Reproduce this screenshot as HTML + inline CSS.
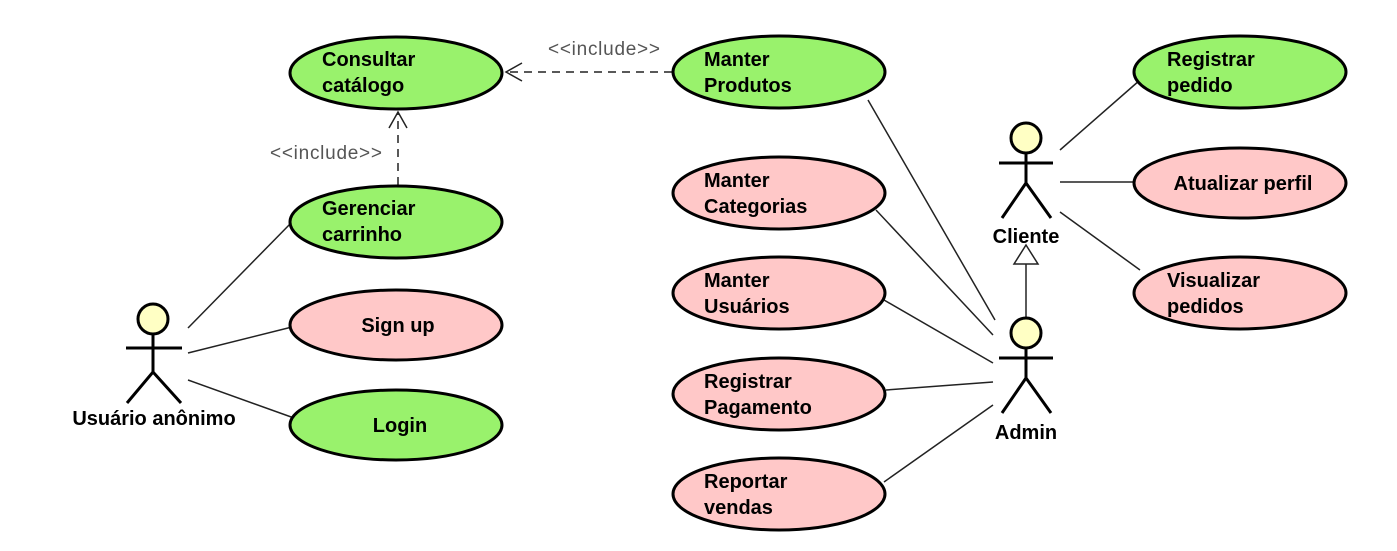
<!DOCTYPE html>
<html><head><meta charset="utf-8"><style>
html,body{margin:0;padding:0;background:#fff}
svg{display:block}
text{font-family:"Liberation Sans",Arial,sans-serif}
.b{font-weight:bold;font-size:20px;fill:#000}
.i{font-size:19px;fill:#555}
.g{fill:#99f26c;stroke:#000;stroke-width:3}
.p{fill:#ffc8c8;stroke:#000;stroke-width:3}
.l{stroke:#222;stroke-width:1.5;fill:none}
.a{stroke:#000;stroke-width:3;fill:none}
.h{fill:#ffffc4;stroke:#000;stroke-width:3}
</style></head><body>
<svg width="1397" height="551" viewBox="0 0 1397 551">
<line class="l" x1="188" y1="328" x2="292" y2="222"/>
<line class="l" x1="188" y1="353" x2="292" y2="327"/>
<line class="l" x1="188" y1="380" x2="294" y2="418"/>
<line class="l" x1="868" y1="100" x2="995" y2="320"/>
<line class="l" x1="876" y1="210" x2="993" y2="335"/>
<line class="l" x1="884" y1="300" x2="993" y2="363"/>
<line class="l" x1="886" y1="390" x2="993" y2="382"/>
<line class="l" x1="884" y1="482" x2="993" y2="405"/>
<line class="l" x1="1060" y1="150" x2="1140" y2="80"/>
<line class="l" x1="1060" y1="182" x2="1134" y2="182"/>
<line class="l" x1="1060" y1="212" x2="1140" y2="270"/>
<line class="l" x1="672" y1="72" x2="508" y2="72" stroke-dasharray="8,6"/>
<polyline class="l" points="522,63 506,72 522,81"/>
<line class="l" x1="398" y1="185" x2="398" y2="113" stroke-dasharray="8,6"/>
<polyline class="l" points="389,128 398,112 407,128"/>
<text class="i" x="548" y="55" textLength="112">&lt;&lt;include&gt;&gt;</text>
<text class="i" x="270" y="159" textLength="112">&lt;&lt;include&gt;&gt;</text>
<line class="l" x1="1026" y1="264" x2="1026" y2="318"/>
<polygon points="1026,245 1014,264 1038,264" fill="#fff" stroke="#222" stroke-width="1.5"/>
<ellipse class="g" cx="396" cy="73" rx="106" ry="36"/>
<text class="b" x="322" y="66">Consultar</text><text class="b" x="322" y="92">catálogo</text>
<ellipse class="g" cx="396" cy="222" rx="106" ry="36"/>
<text class="b" x="322" y="215">Gerenciar</text><text class="b" x="322" y="241">carrinho</text>
<ellipse class="p" cx="396" cy="325" rx="106" ry="35"/>
<text class="b" x="398" y="332" text-anchor="middle">Sign up</text>
<ellipse class="g" cx="396" cy="425" rx="106" ry="35"/>
<text class="b" x="400" y="432" text-anchor="middle">Login</text>
<ellipse class="g" cx="779" cy="72" rx="106" ry="36"/>
<text class="b" x="704" y="66">Manter</text><text class="b" x="704" y="92">Produtos</text>
<ellipse class="p" cx="779" cy="193" rx="106" ry="36"/>
<text class="b" x="704" y="187">Manter</text><text class="b" x="704" y="213">Categorias</text>
<ellipse class="p" cx="779" cy="293" rx="106" ry="36"/>
<text class="b" x="704" y="287">Manter</text><text class="b" x="704" y="313">Usuários</text>
<ellipse class="p" cx="779" cy="394" rx="106" ry="36"/>
<text class="b" x="704" y="388">Registrar</text><text class="b" x="704" y="414">Pagamento</text>
<ellipse class="p" cx="779" cy="494" rx="106" ry="36"/>
<text class="b" x="704" y="488">Reportar</text><text class="b" x="704" y="514">vendas</text>
<ellipse class="g" cx="1240" cy="72" rx="106" ry="36"/>
<text class="b" x="1167" y="66">Registrar</text><text class="b" x="1167" y="92">pedido</text>
<ellipse class="p" cx="1240" cy="183" rx="106" ry="35"/>
<text class="b" x="1243" y="190" text-anchor="middle">Atualizar perfil</text>
<ellipse class="p" cx="1240" cy="293" rx="106" ry="36"/>
<text class="b" x="1167" y="287">Visualizar</text><text class="b" x="1167" y="313">pedidos</text>
<g>
<circle class="h" cx="153" cy="319" r="15"/>
<path class="a" d="M153 334V372M126 348H182M127 403L153 372L181 403"/>
<text class="b" x="154" y="425" text-anchor="middle">Usuário anônimo</text>
</g>
<g>
<circle class="h" cx="1026" cy="138" r="15"/>
<path class="a" d="M1026 153V183M999 163H1053M1002 218L1026 183L1051 218"/>
<text class="b" x="1026" y="243" text-anchor="middle">Cliente</text>
</g>
<g>
<circle class="h" cx="1026" cy="333" r="15"/>
<path class="a" d="M1026 348V378M999 358H1053M1002 413L1026 378L1051 413"/>
<text class="b" x="1026" y="439" text-anchor="middle">Admin</text>
</g>
</svg>
</body></html>
